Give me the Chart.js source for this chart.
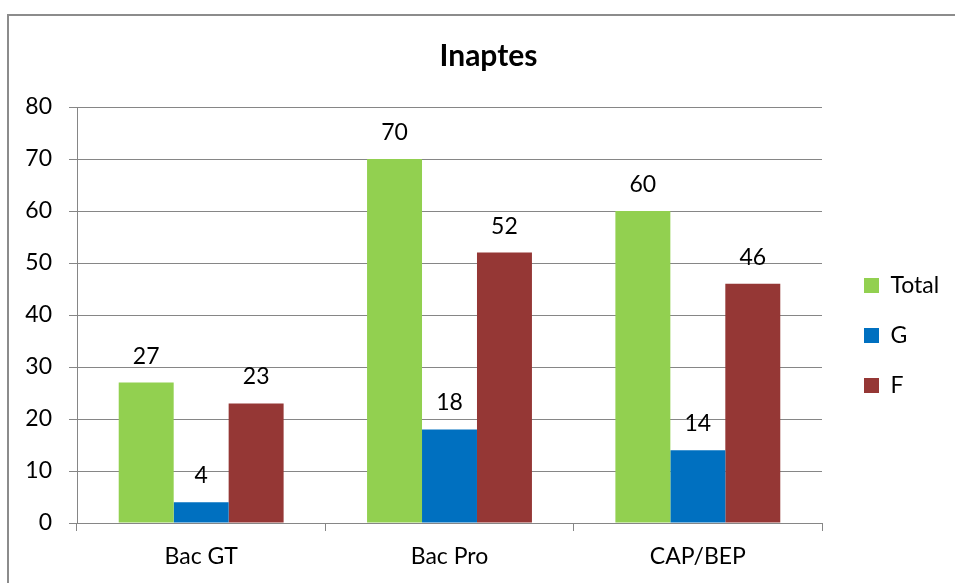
<!DOCTYPE html>
<html>
<head>
<meta charset="utf-8">
<script src="https://cdn.jsdelivr.net/npm/chart.js@4.4.1/dist/chart.umd.min.js"></script>
<style>
  html, body { margin: 0; padding: 0; background: #ffffff; }
  #wrap { width: 955px; height: 583px; position: relative; }
</style>
</head>
<body>
<div id="wrap"><canvas id="c" width="955" height="583"></canvas></div>
<script>
const categories = ['Bac GT', 'Bac Pro', 'CAP/BEP'];
const totalValues = [27, 70, 60];
const gValues = [4, 18, 14];
const fValues = [23, 52, 46];
const seriesNames = ['Total', 'G', 'F'];
const chartTitle = 'Inaptes';

const FONT = 'Lato, "Open Sans", sans-serif';
const GRID = '#868686';

const borderPlugin = {
  id: 'frame',
  beforeDraw(chart) {
    const ctx = chart.ctx;
    ctx.save();
    ctx.fillStyle = '#ffffff';
    ctx.fillRect(0, 0, chart.width, chart.height);
    ctx.strokeStyle = '#8c8c8c';
    ctx.lineWidth = 2;
    ctx.beginPath();
    ctx.moveTo(8, chart.height);
    ctx.lineTo(8, 15);
    ctx.lineTo(chart.width, 15);
    ctx.stroke();
    ctx.restore();
  }
};

const legendPlugin = {
  id: 'legendShift',
  beforeLayout(chart) {
    const lg = chart.legend;
    if (lg && !lg._wrappedFit) {
      const f = lg.fit;
      lg.fit = function () { f.call(this); this.width = 133; };
      lg._wrappedFit = true;
    }
  },
  afterLayout(chart) {
    const lg = chart.legend;
    if (lg) {
      lg.left += 15; lg.right += 15;
      lg.top += 44; lg.bottom += 44;
    }
  }
};

const labelPlugin = {
  id: 'valueLabels',
  afterDatasetsDraw(chart) {
    const ctx = chart.ctx;
    ctx.save();
    ctx.font = '23px ' + FONT;
    ctx.fillStyle = '#000000';
    ctx.textAlign = 'center';
    ctx.textBaseline = 'alphabetic';
    chart.data.datasets.forEach((ds, i) => {
      const meta = chart.getDatasetMeta(i);
      meta.data.forEach((el, j) => {
        ctx.fillText(String(ds.data[j]), el.x, el.y - 19);
      });
    });
    ctx.restore();
  }
};

new Chart(document.getElementById('c'), {
  type: 'bar',
  data: {
    labels: categories,
    datasets: [
      { label: seriesNames[0], data: totalValues, backgroundColor: '#92D050' },
      { label: seriesNames[1], data: gValues, backgroundColor: '#0070C0' },
      { label: seriesNames[2], data: fValues, backgroundColor: '#953735' }
    ]
  },
  options: {
    responsive: false,
    animation: false,
    devicePixelRatio: 1,
    layout: { padding: { left: 22, right: 0, top: 0, bottom: 0 } },
    datasets: { bar: { categoryPercentage: 0.664, barPercentage: 1.0, borderWidth: 0 } },
    plugins: {
      title: {
        display: true,
        text: chartTitle,
        color: '#000000',
        font: { family: FONT, size: 30, weight: 'bold', lineHeight: 1.2 },
        padding: { top: 38, bottom: 33 }
      },
      legend: {
        display: true,
        position: 'right',
        align: 'center',
        labels: {
          color: '#000000',
          font: { family: FONT, size: 23 },
          boxWidth: 15,
          boxHeight: 15,
          padding: 27
        }
      },
      tooltip: { enabled: false }
    },
    scales: {
      x: {
        afterFit(scale) { scale.height = 60; },
        grid: { display: true, drawOnChartArea: false, drawTicks: true, tickLength: 8, color: GRID, lineWidth: 1, offset: true },
        border: { display: true, color: GRID, width: 1 },
        ticks: { color: '#000000', font: { family: FONT, size: 23 }, padding: 12 }
      },
      y: {
        min: 0,
        max: 80,
        afterFit(scale) { scale.width = 55; },
        grid: { display: true, drawOnChartArea: true, drawTicks: true, tickLength: 8, color: GRID, lineWidth: 1 },
        border: { display: true, color: GRID, width: 1 },
        ticks: { stepSize: 10, color: '#000000', font: { family: FONT, size: 23 }, padding: 17 }
      }
    }
  },
  plugins: [borderPlugin, legendPlugin, labelPlugin]
});
</script>
</body>
</html>
